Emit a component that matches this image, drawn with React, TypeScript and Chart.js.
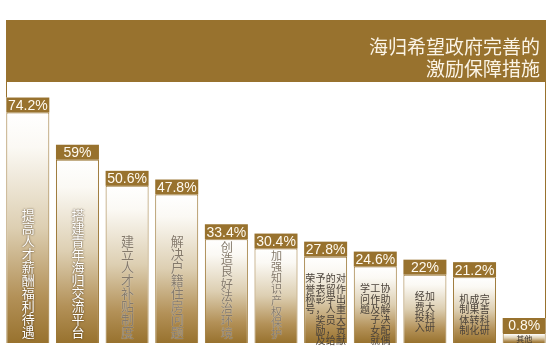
import React, { useEffect, useRef } from "react";
import { Chart, registerables } from "chart.js";

Chart.register(...registerables);

// ---- data ----
const titleLines = ["海归希望政府完善的", "激励保障措施"];
const categories = [
  "提高人才薪酬福利待遇",
  "搭建青年海归交流平台",
  "建立人才补贴制度",
  "解决户籍住房问题",
  "创造良好法治环境",
  "加强知识产权保护",
  "对作出重大贡献的留学人员，给予表彰，奖励及荣誉称号",
  "协助解决配偶工作及子女就学问题",
  "加大科研经费投入",
  "完善科研成果转化机制体制",
  "其他",
];
// vertical text columns, read right to left
const labelColumns = [
  ["提高人才薪酬福利待遇"],
  ["搭建青年海归交流平台"],
  ["建立人才补贴制度"],
  ["解决户籍住房问题"],
  ["创造良好法治环境"],
  ["加强知识产权保护"],
  ["对作出重大贡献", "的留学人员，给", "予表彰，奖励及", "荣誉称号"],
  ["协助解决配偶", "工作及子女就", "学问题"],
  ["加大科研", "经费投入"],
  ["完善科研", "成果转化", "机制体制"],
  ["其他"],
];
const values = [74.2, 59, 50.6, 47.8, 33.4, 30.4, 27.8, 24.6, 22, 21.2, 0.8];
const valueLabels = ["74.2%", "59%", "50.6%", "47.8%", "33.4%", "30.4%", "27.8%", "24.6%", "22%", "21.2%", "0.8%"];

// ---- styling ----
const BROWN = "#98722e";
const MIN_BAR = 10;
const BOX_H = 15;
const CJK = '"Noto Sans CJK SC", "Noto Sans", sans-serif';

function barFill(ctx: any) {
  const chart = ctx.chart;
  const ys = chart.scales && chart.scales.y;
  if (!ys || ctx.raw == null || !chart.chartArea) return "#e8dcc4";
  const base = ys.getPixelForValue(0);
  let top = ys.getPixelForValue(ctx.raw);
  if (base - top < MIN_BAR) top = base - MIN_BAR;
  const g = chart.ctx.createLinearGradient(0, top, 0, base);
  g.addColorStop(0, "#ffffff");
  g.addColorStop(0.15, "#fbf9f4");
  g.addColorStop(0.5, "#ddcfb2");
  g.addColorStop(0.8, "#b39158");
  g.addColorStop(1, "#98722e");
  return g;
}

const decoPlugin = {
  id: "deco",
  beforeDraw(chart: any) {
    const c = chart.ctx;
    const meta = chart.getDatasetMeta(0);
    const first = meta.data[0];
    const last = meta.data[meta.data.length - 1];
    const left = Math.round(first.x - first.width / 2);
    const right = Math.round(last.x + last.width / 2);
    const hTop = 20;
    const hBot = 82;
    c.save();
    c.fillStyle = BROWN;
    c.fillRect(left, hTop, right - left, hBot - hTop);
    c.fillStyle = "#fbf4e6";
    c.font = `19px ${CJK}`;
    c.textAlign = "right";
    c.textBaseline = "middle";
    c.fillText(titleLines[0], right - 6, 47);
    c.fillText(titleLines[1], right - 6, 69);
    // frame lines
    c.strokeStyle = BROWN;
    c.lineWidth = 1;
    c.beginPath();
    c.moveTo(left + 0.5, hBot);
    c.lineTo(left + 0.5, first.y - BOX_H);
    c.moveTo(right - 0.5, hBot);
    c.lineTo(right - 0.5, last.y - BOX_H);
    c.stroke();
    c.restore();
  },
  afterDatasetsDraw(chart: any) {
    const c = chart.ctx;
    const meta = chart.getDatasetMeta(0);
    c.save();
    meta.data.forEach((el: any, i: number) => {
      const { x, y, base, width } = el.getProps(["x", "y", "base", "width"], true);
      const l = x - width / 2;
      // value box
      c.fillStyle = BROWN;
      c.fillRect(l, y - BOX_H, width, BOX_H);
      c.fillStyle = "#fffaf0";
      c.font = '14px "Liberation Sans", Arial, sans-serif';
      c.textAlign = "center";
      c.textBaseline = "middle";
      c.fillText(valueLabels[i], x, y - BOX_H / 2 + 1);

      // inner text
      const cols = labelColumns[i];
      c.textAlign = "center";
      c.textBaseline = "middle";
      if (base - y < 20) {
        c.font = `8px ${CJK}`;
        c.fillStyle = "#3a332c";
        c.fillText(cols[0], x, (y + base) / 2 + 1);
      } else if (cols.length === 1) {
        const chars = Array.from(cols[0]);
        const avail = base - y - 6;
        const step = Math.min(13, avail / chars.length);
        const fs = Math.min(13, step);
        c.font = `${fs.toFixed(1)}px ${CJK}`;
        if (i < 2) {
          c.fillStyle = "#ffffff";
          c.shadowColor = "rgba(50,30,5,0.9)";
          c.shadowBlur = 2;
        } else {
          c.fillStyle = "#857a6b";
          c.shadowColor = "rgba(255,255,255,0.7)";
          c.shadowBlur = 1;
        }
        chars.forEach((ch, k) => {
          const cy = base - 4 - step / 2 - (chars.length - 1 - k) * step;
          c.fillText(ch, x + 0.5, cy);
        });
        c.shadowBlur = 0;
        c.shadowColor = "transparent";
      } else {
        c.font = `10px ${CJK}`;
        c.fillStyle = "#4a423a";
        const colStep = 10.2;
        const rowStep = 10.3;
        cols.forEach((col, j) => {
          const cx = x + ((cols.length - 1) / 2 - j) * colStep;
          Array.from(col).forEach((ch, k) => {
            c.fillText(ch, cx, y + 22 + k * rowStep);
          });
        });
      }
    });
    c.restore();
  },
};

export default function App() {
  const ref = useRef<HTMLCanvasElement | null>(null);
  useEffect(() => {
    if (!ref.current) return;
    const chart = new Chart(ref.current, {
      type: "bar",
      data: {
        labels: categories,
        datasets: [
          {
            data: values,
            backgroundColor: barFill,
            borderColor: BROWN,
            borderWidth: 1,
            barPercentage: 43 / 49.64,
            categoryPercentage: 1,
            minBarLength: MIN_BAR,
          },
        ],
      },
      options: {
        responsive: false,
        devicePixelRatio: 1,
        animation: false,
        layout: { padding: { top: 97, bottom: 16, left: 3, right: 7 } },
        plugins: { legend: { display: false }, tooltip: { enabled: false }, title: { display: false } },
        scales: {
          x: { display: false },
          y: { display: false, min: 0, max: 79.2 },
        },
      },
      plugins: [decoPlugin],
    });
    return () => chart.destroy();
  }, []);
  return (
    <div style={{ position: "absolute", left: 0, top: 0, width: 556, height: 359, background: "#ffffff" }}>
      <canvas ref={ref} width={556} height={359} style={{ display: "block" }} />
    </div>
  );
}
